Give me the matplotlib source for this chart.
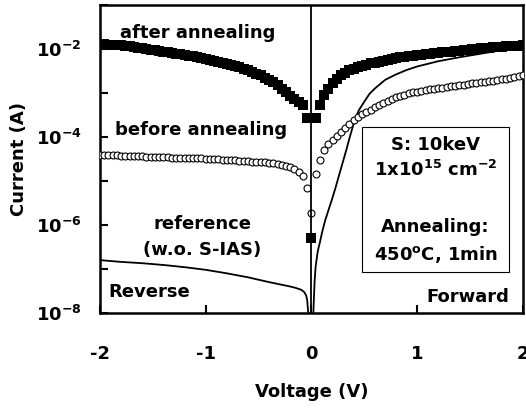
import numpy as np
import matplotlib
matplotlib.use("Agg")
import matplotlib.pyplot as plt
from matplotlib.patches import Rectangle

plt.rcParams['font.family'] = ['DejaVu Sans']
plt.rcParams['font.weight'] = 'bold'
plt.rcParams['mathtext.default'] = 'bf'

# voltage sweep (V), 0.04 V steps
volts = np.round(np.linspace(-2, 2, 101), 2)

# log10 of current (A)
after_log = [
    -1.89, -1.89, -1.90, -1.90, -1.91, -1.92, -1.93, -1.94, -1.96, -1.97,
    -1.99, -2.00, -2.02, -2.03, -2.05, -2.06, -2.08, -2.09, -2.11, -2.12,
    -2.14, -2.15, -2.17, -2.19, -2.21, -2.23, -2.25, -2.27, -2.29, -2.31,
    -2.34, -2.36, -2.39, -2.42, -2.45, -2.48, -2.52, -2.56, -2.60, -2.65,
    -2.70, -2.76, -2.83, -2.91, -2.99, -3.06, -3.13, -3.20, -3.27, -3.57,
    -3.57, -3.57, -3.27, -3.05, -2.90, -2.78, -2.68, -2.60, -2.54, -2.49,
    -2.45, -2.42, -2.39, -2.36, -2.33, -2.31, -2.29, -2.27, -2.25, -2.23,
    -2.21, -2.19, -2.18, -2.16, -2.15, -2.14, -2.13, -2.12, -2.11, -2.10,
    -2.09, -2.08, -2.07, -2.06, -2.05, -2.04, -2.03, -2.02, -2.01, -2.00,
    -1.99, -1.98, -1.97, -1.96, -1.95, -1.95, -1.94, -1.94, -1.93, -1.93,
    -1.92,
]
after_extra_v = [0.0]
after_extra_log = [-6.30]

before_log = [
    -4.41, -4.41, -4.42, -4.42, -4.42, -4.43, -4.43, -4.43, -4.44, -4.44,
    -4.44, -4.45, -4.45, -4.45, -4.46, -4.46, -4.46, -4.47, -4.47, -4.47,
    -4.48, -4.48, -4.49, -4.49, -4.49, -4.50, -4.50, -4.51, -4.51, -4.52,
    -4.52, -4.53, -4.53, -4.54, -4.54, -4.55, -4.56, -4.56, -4.57, -4.58,
    -4.59, -4.60, -4.61, -4.63, -4.65, -4.68, -4.72, -4.79, -4.89, -5.16,
    -5.73, -4.84, -4.52, -4.30, -4.16, -4.06, -3.97, -3.88, -3.79, -3.71,
    -3.62, -3.55, -3.49, -3.43, -3.38, -3.33, -3.28, -3.23, -3.18, -3.14,
    -3.10, -3.07, -3.04, -3.01, -2.99, -2.97, -2.95, -2.94, -2.92, -2.91,
    -2.89, -2.88, -2.87, -2.85, -2.84, -2.82, -2.81, -2.80, -2.78, -2.77,
    -2.76, -2.75, -2.73, -2.72, -2.71, -2.69, -2.68, -2.66, -2.64, -2.62,
    -2.60,
]

ref_v = [-2.0, -1.8, -1.6, -1.4, -1.2, -1.0, -0.8, -0.6, -0.4, -0.3,
         -0.2, -0.15, -0.1, -0.07, -0.05, -0.04, -0.03, -0.02, -0.01, 0.0,
         0.01, 0.02, 0.03, 0.04, 0.06, 0.08, 0.1, 0.13, 0.17, 0.2,
         0.23, 0.27, 0.3, 0.33, 0.36, 0.39, 0.42, 0.45, 0.5, 0.55,
         0.6, 0.7, 0.8, 0.9, 1.0, 1.2, 1.4, 1.6, 1.8, 2.0]
ref_log = [-6.80, -6.84, -6.87, -6.91, -6.96, -7.02, -7.10, -7.19, -7.30, -7.35,
           -7.40, -7.43, -7.47, -7.52, -7.60, -7.70, -8.0, -8.6, -9.5, -10.0,
           -9.0, -7.9, -7.3, -6.95, -6.6, -6.4, -6.18, -5.90, -5.60, -5.38,
           -5.14, -4.80, -4.55, -4.30, -4.03, -3.78, -3.55, -3.39, -3.20, -3.02,
           -2.90, -2.70, -2.58, -2.48, -2.40, -2.28, -2.19, -2.11, -2.03, -1.97]

xticks = [-2, -1, 0, 1, 2]
xtick_labels = ['-2', '-1', '0', '1', '2']
yticks = [1e-8, 1e-7, 1e-6, 1e-5, 1e-4, 1e-3, 1e-2, 1e-1]
ytick_labels = [r'$10^{-8}$', '', r'$10^{-6}$', '', r'$10^{-4}$', '', r'$10^{-2}$', '']

fig = plt.figure(figsize=(5.26, 4.08), dpi=100)
ax = fig.add_axes([0.190, 0.233, 0.804, 0.755])

ax.plot(ref_v, 10 ** np.array(ref_log), color='k', lw=1.3, zorder=2)
ax.plot(volts, 10 ** np.array(after_log), 's', color='k', ms=7, mew=0, zorder=3)
ax.plot(after_extra_v, 10 ** np.array(after_extra_log), 's', color='k', ms=7, mew=0, zorder=3)
ax.plot(volts, 10 ** np.array(before_log), 'o', mfc='white', mec='k', ms=5, mew=0.8, zorder=4)
ax.axvline(0, color='k', lw=1.3, zorder=5)

ax.set_yscale('log')
ax.set_xlim(-2, 2)
ax.set_ylim(1e-8, 1e-1)
ax.set_xticks(xticks)
ax.set_xticklabels(xtick_labels)
ax.set_yticks(yticks)
ax.set_yticklabels(ytick_labels)
ax.yaxis.set_minor_locator(matplotlib.ticker.NullLocator())
ax.tick_params(axis='both', direction='in', length=6, width=1.5, labelsize=13)
ax.tick_params(axis='x', pad=23)
ax.tick_params(axis='y', pad=13)
for s in ax.spines.values():
    s.set_linewidth(1.8)

ax.set_xlabel('Voltage (V)', fontsize=13, fontweight='bold')
ax.set_ylabel('Current (A)', fontsize=13, fontweight='bold')
ax.xaxis.set_label_coords(0.501, -0.227)
ax.yaxis.set_label_coords(-0.169, 0.5)

tkw = dict(fontsize=13, fontweight='bold', va='center')
ax.text(-1.81, 10 ** -1.64, 'after annealing', ha='left', **tkw)
ax.text(-1.86, 10 ** -3.84, 'before annealing', ha='left', **tkw)
ax.text(-1.03, 10 ** -5.98, 'reference', ha='center', **tkw)
ax.text(-1.03, 10 ** -6.57, '(w.o. S-IAS)', ha='center', **tkw)
ax.text(-1.92, 10 ** -7.52, 'Reverse', ha='left', **tkw)
ax.text(1.87, 10 ** -7.64, 'Forward', ha='right', **tkw)

box = Rectangle((0.48, 10 ** -7.07), 1.39, 10 ** -3.77 - 10 ** -7.07,
                fill=False, ec='k', lw=0.8, zorder=6)
ax.add_patch(box)
ax.text(1.175, 10 ** -4.18, 'S: 10keV', ha='center', **tkw)
ax.text(1.175, 10 ** -4.75, r'1x10$^{15}$ cm$^{-2}$', ha='center', **tkw)
ax.text(1.175, 10 ** -6.05, 'Annealing:', ha='center', **tkw)
ax.text(1.175, 10 ** -6.68, r'450$^{o}$C, 1min', ha='center', **tkw)

fig.savefig('out.png', dpi=100)
